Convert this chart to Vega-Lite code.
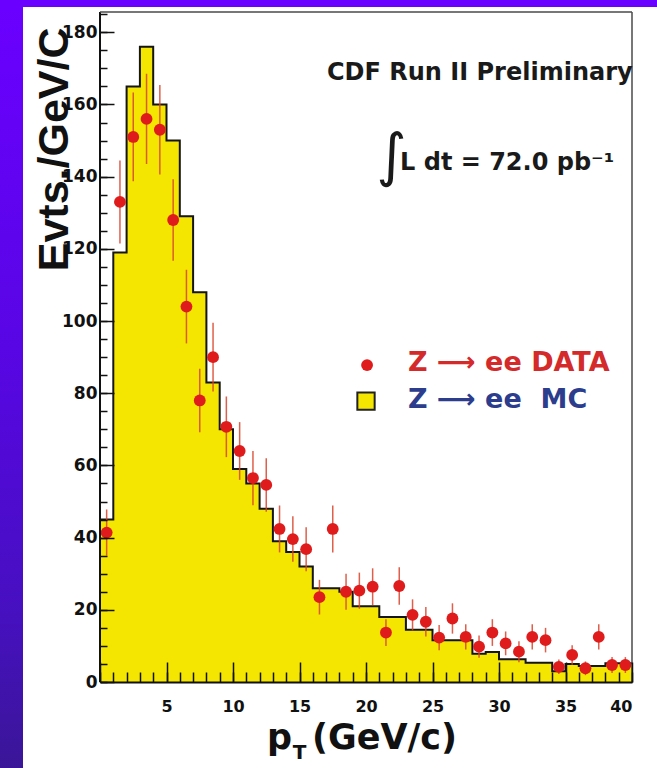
{
  "$schema": "https://vega.github.io/schema/vega-lite/v6.json",
  "background": "white",
  "padding": 0,
  "config": {
    "view": {"stroke": null},
    "axis": {"grid": false, "labelFont": "DejaVu Sans", "titleFont": "DejaVu Sans"}
  },
  "bounds": "flush",
  "spacing": 0,
  "vconcat": [
    {
      "width": 657,
      "height": 7,
      "data": {"values": [{}]},
      "mark": {"type": "rect", "color": "#6a00ff"},
      "encoding": {}
    },
    {
      "bounds": "flush",
      "spacing": 77,
      "hconcat": [
        {
          "width": 23,
          "height": 761,
          "data": {"values": [{}]},
          "mark": {
            "type": "rect",
            "color": {
              "gradient": "linear",
              "x1": 0, "y1": 0, "x2": 0, "y2": 1,
              "stops": [
                {"offset": 0, "color": "#6a00ff"},
                {"offset": 0.45, "color": "#5806e4"},
                {"offset": 0.8, "color": "#4610bf"},
                {"offset": 1, "color": "#3a1697"}
              ]
            }
          },
          "encoding": {}
        },
        {
          "width": 532,
          "height": 675,
          "data": {
            "values": [
              {"lo": 0, "hi": 1, "pt": 0.5, "mc": 45, "dat": 41.4, "err": 6.4},
              {"lo": 1, "hi": 2, "pt": 1.5, "mc": 119, "dat": 133, "err": 11.5},
              {"lo": 2, "hi": 3, "pt": 2.5, "mc": 165, "dat": 151, "err": 12.3},
              {"lo": 3, "hi": 4, "pt": 3.5, "mc": 176, "dat": 156, "err": 12.5},
              {"lo": 4, "hi": 5, "pt": 4.5, "mc": 160, "dat": 153, "err": 12.4},
              {"lo": 5, "hi": 6, "pt": 5.5, "mc": 150, "dat": 128, "err": 11.3},
              {"lo": 6, "hi": 7, "pt": 6.5, "mc": 129, "dat": 104, "err": 10.2},
              {"lo": 7, "hi": 8, "pt": 7.5, "mc": 108, "dat": 78, "err": 8.8},
              {"lo": 8, "hi": 9, "pt": 8.5, "mc": 83, "dat": 90, "err": 9.5},
              {"lo": 9, "hi": 10, "pt": 9.5, "mc": 70, "dat": 70.7, "err": 8.4},
              {"lo": 10, "hi": 11, "pt": 10.5, "mc": 59, "dat": 64, "err": 8},
              {"lo": 11, "hi": 12, "pt": 11.5, "mc": 55, "dat": 56.5, "err": 7.5},
              {"lo": 12, "hi": 13, "pt": 12.5, "mc": 48, "dat": 54.6, "err": 7.4},
              {"lo": 13, "hi": 14, "pt": 13.5, "mc": 39, "dat": 42.4, "err": 6.5},
              {"lo": 14, "hi": 15, "pt": 14.5, "mc": 36, "dat": 39.6, "err": 6.3},
              {"lo": 15, "hi": 16, "pt": 15.5, "mc": 32, "dat": 36.8, "err": 6.1},
              {"lo": 16, "hi": 17, "pt": 16.5, "mc": 26, "dat": 23.5, "err": 4.8},
              {"lo": 17, "hi": 18, "pt": 17.5, "mc": 26, "dat": 42.4, "err": 6.5},
              {"lo": 18, "hi": 19, "pt": 18.5, "mc": 25, "dat": 25, "err": 5},
              {"lo": 19, "hi": 20, "pt": 19.5, "mc": 21, "dat": 25.3, "err": 5},
              {"lo": 20, "hi": 21, "pt": 20.5, "mc": 21, "dat": 26.4, "err": 5.1},
              {"lo": 21, "hi": 22, "pt": 21.5, "mc": 18, "dat": 13.7, "err": 3.7},
              {"lo": 22, "hi": 23, "pt": 22.5, "mc": 18, "dat": 26.6, "err": 5.2},
              {"lo": 23, "hi": 24, "pt": 23.5, "mc": 14.5, "dat": 18.6, "err": 4.3},
              {"lo": 24, "hi": 25, "pt": 24.5, "mc": 14.5, "dat": 16.7, "err": 4.1},
              {"lo": 25, "hi": 26, "pt": 25.5, "mc": 11.6, "dat": 12.3, "err": 3.5},
              {"lo": 26, "hi": 27, "pt": 26.5, "mc": 11.6, "dat": 17.6, "err": 4.2},
              {"lo": 27, "hi": 28, "pt": 27.5, "mc": 11.6, "dat": 12.5, "err": 3.5},
              {"lo": 28, "hi": 29, "pt": 28.5, "mc": 7.8, "dat": 9.8, "err": 3.1},
              {"lo": 29, "hi": 30, "pt": 29.5, "mc": 8.3, "dat": 13.7, "err": 3.7},
              {"lo": 30, "hi": 31, "pt": 30.5, "mc": 6.3, "dat": 10.7, "err": 3.3},
              {"lo": 31, "hi": 32, "pt": 31.5, "mc": 6.3, "dat": 8.4, "err": 2.9},
              {"lo": 32, "hi": 33, "pt": 32.5, "mc": 5.3, "dat": 12.5, "err": 3.5},
              {"lo": 33, "hi": 34, "pt": 33.5, "mc": 5.3, "dat": 11.6, "err": 3.4},
              {"lo": 34, "hi": 35, "pt": 34.5, "mc": 3.0, "dat": 4.2, "err": 2},
              {"lo": 35, "hi": 36, "pt": 35.5, "mc": 5.0, "dat": 7.5, "err": 2.7},
              {"lo": 36, "hi": 37, "pt": 36.5, "mc": 4.4, "dat": 3.8, "err": 1.9},
              {"lo": 37, "hi": 38, "pt": 37.5, "mc": 4.4, "dat": 12.5, "err": 3.5},
              {"lo": 38, "hi": 39, "pt": 38.5, "mc": 5.2, "dat": 4.7, "err": 2.2},
              {"lo": 39, "hi": 40, "pt": 39.5, "mc": 5.2, "dat": 4.7, "err": 2.2}
            ]
          },
          "resolve": {"axis": {"x": "independent", "y": "independent"}},
          "layer": [
            {
              "transform": [{"fold": ["lo", "hi"], "as": ["edge", "ex"]}],
              "mark": {"type": "area", "color": "#f4e600", "opacity": 1},
              "encoding": {
                "x": {
                  "field": "ex", "type": "quantitative",
                  "scale": {"domain": [0, 40], "nice": false, "zero": false},
                  "axis": {
                    "orient": "bottom", "values": [5, 10, 15, 20, 25, 30, 35, 40],
                    "ticks": false, "domain": true, "domainColor": "#111", "domainWidth": 2, "zindex": 1,
                    "labelFontWeight": "bold", "labelFontSize": 16, "labelColor": "#111", "labelPadding": 16,
                    "title": "(GeV/c)", "titleFontSize": 35, "titleFontWeight": "bold", "titleColor": "#111",
                    "titleX": 284, "titleY": 66, "titleAlign": "center", "titleBaseline": "alphabetic"
                  }
                },
                "y": {
                  "field": "mc", "type": "quantitative", "stack": null,
                  "scale": {"domain": [0, 187], "nice": false},
                  "axis": {
                    "orient": "left", "values": [0, 20, 40, 60, 80, 100, 120, 140, 160, 180],
                    "ticks": false, "domain": false, "zindex": 1,
                    "labelFontWeight": "bold", "labelFontSize": 17, "labelColor": "#111", "labelPadding": 3,
                    "title": "Evts./GeV/C", "titleFont": "Liberation Sans", "titleFontSize": 43, "titleFontWeight": "bold", "titleColor": "#111",
                    "titleAngle": -90, "titleX": -33, "titleY": 20, "titleAlign": "right", "titleBaseline": "alphabetic"
                  }
                }
              }
            },
            {
              "transform": [{"fold": ["lo", "hi"], "as": ["edge", "ex"]}],
              "mark": {"type": "line", "color": "#151515", "strokeWidth": 2},
              "encoding": {
                "x": {
                  "field": "ex", "type": "quantitative",
                  "axis": {
                    "orient": "bottom", "values": [0, 5, 10, 15, 20, 25, 30, 35, 40],
                    "labels": false, "domain": false, "ticks": true, "tickSize": -20, "tickColor": "#111", "tickWidth": 1.5,
                    "title": "p", "titleFontSize": 35, "titleFontWeight": "bold", "titleColor": "#111",
                    "titleX": 179, "titleY": 66, "titleAlign": "center", "titleBaseline": "alphabetic", "zindex": 1
                  }
                },
                "y": {
                  "field": "mc", "type": "quantitative",
                  "axis": {
                    "orient": "left", "values": [0, 20, 40, 60, 80, 100, 120, 140, 160, 180],
                    "labels": false, "domain": false, "ticks": true, "tickSize": -14, "tickColor": "#111", "tickWidth": 1.5,
                    "title": null, "zindex": 1
                  }
                },
                "order": [
                  {"field": "lo", "type": "quantitative"},
                  {"field": "edge", "type": "nominal", "sort": "descending"}
                ]
              }
            },
            {
              "mark": {"type": "errorbar", "color": "#d8432c", "thickness": 1.5, "opacity": 0.85},
              "encoding": {
                "x": {"field": "pt", "type": "quantitative", "axis": null},
                "y": {"field": "dat", "type": "quantitative", "axis": null},
                "yError": {"field": "err"}
              }
            },
            {
              "mark": {"type": "point", "filled": true, "shape": "circle", "size": 140, "color": "#df1b1b", "opacity": 1},
              "encoding": {
                "x": {
                  "field": "pt", "type": "quantitative",
                  "axis": {
                    "orient": "bottom",
                    "values": [0, 1, 2, 3, 4, 5, 6, 7, 8, 9, 10, 11, 12, 13, 14, 15, 16, 17, 18, 19, 20, 21, 22, 23, 24, 25, 26, 27, 28, 29, 30, 31, 32, 33, 34, 35, 36, 37, 38, 39, 40],
                    "labels": false, "domain": false, "ticks": true, "tickSize": -10, "tickColor": "#111", "tickWidth": 1.5,
                    "title": null, "zindex": 1
                  }
                },
                "y": {
                  "field": "dat", "type": "quantitative",
                  "axis": {
                    "orient": "left",
                    "values": [0, 5, 10, 15, 20, 25, 30, 35, 40, 45, 50, 55, 60, 65, 70, 75, 80, 85, 90, 95, 100, 105, 110, 115, 120, 125, 130, 135, 140, 145, 150, 155, 160, 165, 170, 175, 180, 185],
                    "labels": false, "domain": false, "ticks": true, "tickSize": -7, "tickColor": "#111", "tickWidth": 1.5,
                    "title": null, "zindex": 1
                  }
                }
              }
            },
            {
              "data": {"values": [{}]},
              "mark": {"type": "rule", "color": "#111", "strokeWidth": 2},
              "encoding": {
                "x": {"datum": 0, "type": "quantitative", "axis": null},
                "y": {"datum": 0, "type": "quantitative", "axis": null},
                "y2": {"datum": 185.6}
              }
            },
            {
              "data": {"values": [{}]},
              "mark": {"type": "rule", "color": "#4a4a4a", "strokeWidth": 1.5},
              "encoding": {
                "x": {"datum": 0, "type": "quantitative", "axis": null},
                "x2": {"datum": 40},
                "y": {"datum": 185.6, "type": "quantitative", "axis": null}
              }
            },
            {
              "data": {"values": [{}]},
              "mark": {"type": "rule", "color": "#4a4a4a", "strokeWidth": 1.5},
              "encoding": {
                "x": {"datum": 40, "type": "quantitative", "axis": null},
                "y": {"datum": 0, "type": "quantitative", "axis": null},
                "y2": {"datum": 185.6}
              }
            },
            {
              "data": {"values": [{}]},
              "mark": {"type": "text", "text": "CDF Run II Preliminary", "font": "DejaVu Sans", "fontWeight": "bold", "fontSize": 24, "align": "right", "baseline": "middle", "color": "#1a1a1a"},
              "encoding": {
                "x": {"datum": 40.05, "type": "quantitative", "axis": null},
                "y": {"datum": 168.7, "type": "quantitative", "axis": null}
              }
            },
            {
              "data": {"values": [{}]},
              "mark": {"type": "text", "text": "∫", "font": "DejaVu Sans", "fontSize": 58, "align": "center", "baseline": "middle", "color": "#1a1a1a"},
              "encoding": {
                "x": {
                  "datum": 21.9, "type": "quantitative",
                  "axis": {
                    "orient": "bottom", "domain": false, "ticks": false, "labels": false,
                    "title": "T", "titleFontSize": 20, "titleFontWeight": "bold", "titleColor": "#111",
                    "titleX": 199, "titleY": 76, "titleAlign": "center", "titleBaseline": "alphabetic"
                  }
                },
                "y": {"datum": 145.2, "type": "quantitative", "axis": null}
              }
            },
            {
              "data": {"values": [{}]},
              "mark": {"type": "text", "text": "L dt = 72.0 pb⁻¹", "font": "DejaVu Sans", "fontWeight": "bold", "fontSize": 24, "align": "left", "baseline": "alphabetic", "color": "#1a1a1a"},
              "encoding": {
                "x": {"datum": 22.56, "type": "quantitative", "axis": null},
                "y": {"datum": 141.8, "type": "quantitative", "axis": null}
              }
            },
            {
              "data": {"values": [{}]},
              "mark": {"type": "point", "filled": true, "shape": "circle", "size": 140, "color": "#df1b1b", "opacity": 1},
              "encoding": {
                "x": {"datum": 20.08, "type": "quantitative", "axis": null},
                "y": {"datum": 87.8, "type": "quantitative", "axis": null}
              }
            },
            {
              "data": {"values": [{}]},
              "mark": {"type": "point", "filled": true, "shape": "square", "size": 300, "color": "#f4e600", "stroke": "#222", "strokeWidth": 2, "opacity": 1},
              "encoding": {
                "x": {"datum": 20.0, "type": "quantitative", "axis": null},
                "y": {"datum": 77.8, "type": "quantitative", "axis": null}
              }
            },
            {
              "data": {"values": [{}]},
              "mark": {"type": "text", "text": "Z ⟶ ee DATA", "font": "DejaVu Sans", "fontWeight": "bold", "fontSize": 27, "align": "left", "baseline": "middle", "color": "#d42a2a"},
              "encoding": {
                "x": {"datum": 23.16, "type": "quantitative", "axis": null},
                "y": {"datum": 88.4, "type": "quantitative", "axis": null}
              }
            },
            {
              "data": {"values": [{}]},
              "mark": {"type": "text", "text": "Z ⟶ ee\u00a0\u00a0MC", "font": "DejaVu Sans", "fontWeight": "bold", "fontSize": 27, "align": "left", "baseline": "middle", "color": "#2b3d8c"},
              "encoding": {
                "x": {"datum": 23.16, "type": "quantitative", "axis": null},
                "y": {"datum": 78.1, "type": "quantitative", "axis": null}
              }
            }
          ]
        }
      ]
    }
  ]
}
